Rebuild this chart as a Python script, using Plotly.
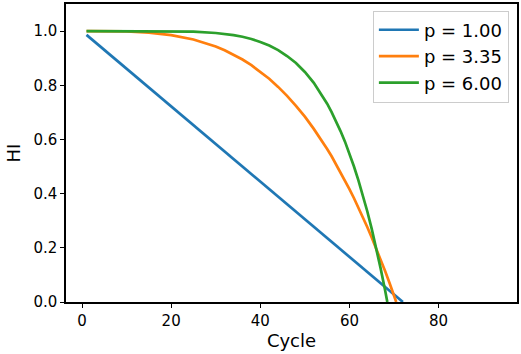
import plotly.graph_objects as go

cycles_p1 = [1, 72]
hi_p1 = [0.986, 0.0]

cycles_p335 = [1, 5, 10, 15, 20, 25, 30, 32, 34, 36, 38, 40, 42, 44, 46, 48, 50, 52, 54, 55, 56,
               58, 60, 61, 62, 63, 64, 65, 66, 67, 68, 69, 70, 70.5]
hi_p335 = [1.0, 1.0, 0.999, 0.994, 0.985, 0.969, 0.943, 0.929, 0.913, 0.895, 0.874, 0.850,
           0.824, 0.794, 0.761, 0.724, 0.684, 0.639, 0.591, 0.565, 0.538,
           0.480, 0.417, 0.384, 0.350, 0.314, 0.277, 0.238, 0.198, 0.157, 0.114, 0.070, 0.024, 0.0]

cycles_p6 = [1, 10, 15, 20, 25, 30, 32, 34, 36, 38, 40, 42, 44, 46, 48, 50, 52, 54, 55, 56, 57,
             58, 59, 60, 61, 62, 63, 64, 65, 66, 67, 68, 68.5]
hi_p6 = [1.0, 1.0, 1.0, 0.999, 0.998, 0.993, 0.990, 0.985, 0.979, 0.971, 0.960, 0.947, 0.930,
         0.908, 0.882, 0.849, 0.809, 0.760, 0.732, 0.701, 0.668,
         0.631, 0.592, 0.548, 0.501, 0.450, 0.395, 0.335, 0.270, 0.200, 0.124, 0.043, 0.0]

names = ["p = 1.00", "p = 3.35", "p = 6.00"]
colors = ["#1f77b4", "#ff7f0e", "#2ca02c"]

fig = go.Figure()
for xs, ys, nm, c in [(cycles_p1, hi_p1, names[0], colors[0]),
                      (cycles_p335, hi_p335, names[1], colors[1]),
                      (cycles_p6, hi_p6, names[2], colors[2])]:
    fig.add_trace(go.Scatter(x=xs, y=ys, mode="lines", name=nm,
                             line=dict(color=c, width=2.7)))

axis_common = dict(showline=True, linecolor="black", linewidth=1.5, mirror=True,
                   ticks="outside", ticklen=4, tickwidth=1.2, tickcolor="black",
                   showgrid=False, zeroline=False,
                   tickfont=dict(size=15, color="black", family="DejaVu Sans"))

fig.update_layout(
    width=521, height=354,
    margin=dict(l=66, r=2, t=2, b=52),
    plot_bgcolor="white", paper_bgcolor="white",
    font=dict(family="DejaVu Sans", color="black"),
    xaxis=dict(range=[-3.6, 97.6], tickvals=[0, 20, 40, 60, 80],
               title=dict(text="Cycle", font=dict(size=18), standoff=3), **axis_common),
    yaxis=dict(range=[0, 1.1], tickvals=[0, 0.2, 0.4, 0.6, 0.8, 1.0], tickformat=".1f",
               title=dict(text="HI", font=dict(size=18), standoff=8), **axis_common),
    legend=dict(x=0.982, y=0.978, xanchor="right", yanchor="top",
                bgcolor="rgba(255,255,255,0.8)", bordercolor="#cccccc", borderwidth=1,
                font=dict(size=18, color="black"), itemwidth=40, tracegroupgap=0),
)

fig.write_html("out.html")
